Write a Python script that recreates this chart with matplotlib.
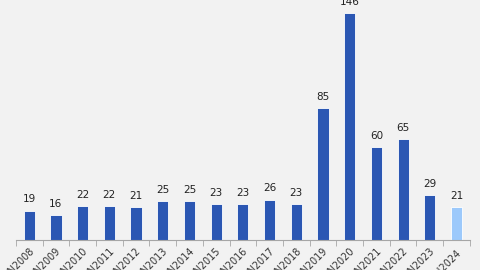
import matplotlib.pyplot as plt
import numpy as np

years = ["JAN2008", "JAN2009", "JAN2010", "JAN2011", "JAN2012", "JAN2013",
         "JAN2014", "JAN2015", "JAN2016", "JAN2017", "JAN2018", "JAN2019",
         "JAN2020", "JAN2021", "JAN2022", "JAN2023", "1H2024"]
counts = [19, 16, 22, 22, 21, 25, 25, 23, 23, 26, 23, 85, 146, 60, 65, 29, 21]
colors = ["#2b57b3"] * 16 + ["#9cc9fb"]

fig = plt.figure(figsize=(4.8, 2.7), dpi=100, facecolor="#f2f2f2")
ax = fig.add_axes([0.033, 0.111, 0.946, 0.885])
ax.set_facecolor("#f2f2f2")

x = np.arange(len(years))
ax.bar(x, counts, width=0.42, color=colors, edgecolor="white", linewidth=0.6)
for xi, v in zip(x, counts):
    ax.text(xi, v + 4, str(v), ha="center", va="bottom", fontsize=7.5, color="#222222")

ax.set_xlim(-0.5, len(years) - 0.5)
ax.set_ylim(0, 154)
ax.set_yticks([])
for s in ["top", "right", "left"]:
    ax.spines[s].set_visible(False)
ax.spines["bottom"].set_color("#a6a6a6")

ax.set_xticks(x)
ax.set_xticklabels(years, rotation=45, ha="right", rotation_mode="anchor",
                   fontsize=7, color="#333333")
ax.tick_params(axis="x", which="major", length=0, pad=5)
ax.set_xticks(np.arange(-0.5, len(years)), minor=True)
ax.tick_params(axis="x", which="minor", length=4, color="#a6a6a6")

fig.savefig("out.png", dpi=100, facecolor=fig.get_facecolor())
